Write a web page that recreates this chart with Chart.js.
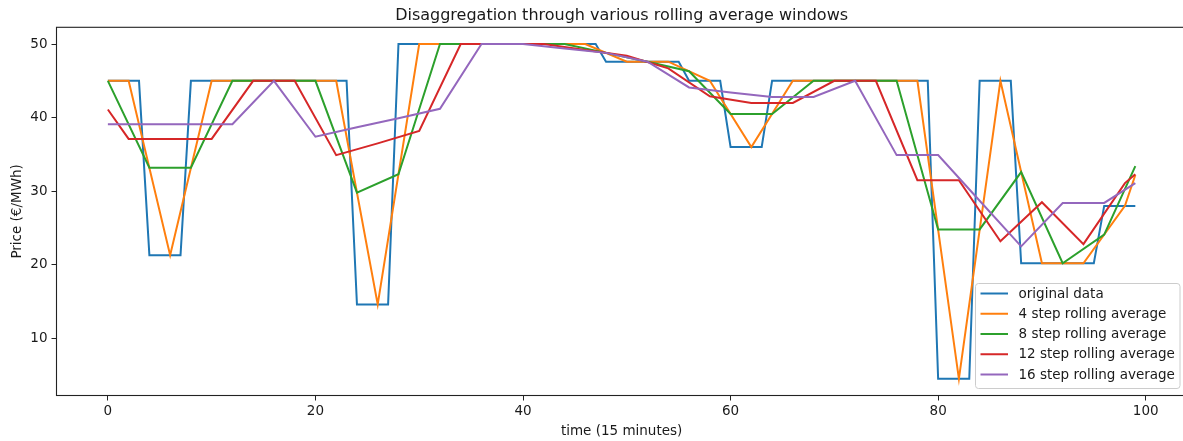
<!DOCTYPE html>
<html>
<head>
<meta charset="utf-8">
<title>Disaggregation through various rolling average windows</title>
<script src="https://cdn.jsdelivr.net/npm/chart.js@4.4.1/dist/chart.umd.min.js"></script>
<style>
  html, body { margin: 0; padding: 0; background: #ffffff; overflow: hidden; }
  #wrap { width: 1200px; height: 441px; }
</style>
</head>
<body>
<div id="wrap"><canvas id="chart" width="1200" height="441"></canvas></div>
<script>
// Time axis in 15-minute steps; each series is given by its corner points.
const originalX = [0, 3, 4, 7, 8, 23, 24, 27, 28, 47, 48, 55, 56, 59, 60, 63, 64, 79, 80, 83, 84, 87, 88, 95, 96, 99];
const originalY = [45, 45, 21.3, 21.3, 45, 45, 14.6, 14.6, 50, 50, 47.6, 47.6, 45, 45, 36, 36, 45, 45, 4.5, 4.5, 45, 45, 20.2, 20.2, 28, 28];

const roll4X = [0, 2, 6, 10, 14, 18, 22, 26, 30, 34, 38, 42, 46, 50, 54, 58, 62, 66, 70, 74, 78, 82, 86, 90, 94, 98, 99];
const roll4Y = [45, 45, 21.3, 45, 45, 45, 45, 14.6, 50, 50, 50, 50, 50, 47.6, 47.6, 45, 36, 45, 45, 45, 45, 4.5, 45, 20.2, 20.2, 28, 32.2];

const roll8X = [0, 4, 8, 12, 16, 20, 24, 28, 32, 36, 40, 44, 48, 52, 56, 60, 64, 68, 72, 76, 80, 84, 88, 92, 96, 99];
const roll8Y = [45, 33.2, 33.2, 45, 45, 45, 29.8, 32.3, 50, 50, 50, 50, 48.8, 47.6, 46.3, 40.5, 40.5, 45, 45, 45, 24.8, 24.8, 32.6, 20.2, 24.1, 33.4];

const roll12X = [0, 2, 6, 10, 14, 18, 22, 26, 30, 34, 38, 42, 46, 50, 54, 58, 62, 66, 70, 74, 78, 82, 86, 90, 94, 98, 99];
const roll12Y = [41.1, 37.1, 37.1, 37.1, 45, 45, 34.9, 36.5, 38.2, 50, 50, 50, 49.2, 48.4, 46.7, 42.9, 42, 42, 45, 45, 31.5, 31.5, 23.2, 28.5, 22.8, 31.1, 32.3];

const roll16X = [0, 4, 8, 12, 16, 20, 24, 28, 32, 36, 40, 44, 48, 52, 56, 60, 64, 68, 72, 76, 80, 84, 88, 92, 96, 99];
const roll16Y = [39.1, 39.1, 39.1, 39.1, 45, 37.4, 38.7, 39.9, 41.2, 50, 50, 49.4, 48.8, 47.6, 44.1, 43.4, 42.8, 42.8, 45, 34.9, 34.9, 28.7, 22.5, 28.4, 28.4, 31.1];

const seriesLabels = ['original data', '4 step rolling average', '8 step rolling average', '12 step rolling average', '16 step rolling average'];
const seriesColors = ['#1f77b4', '#ff7f0e', '#2ca02c', '#d62728', '#9467bd'];

const xTicks = [0, 20, 40, 60, 80, 100];
const yTicks = [10, 20, 30, 40, 50];

const titleText = 'Disaggregation through various rolling average windows';
const xTitle = 'time (15 minutes)';
const yTitle = 'Price (€/MWh)';

const FONT = 'DejaVu Sans, Verdana, sans-serif';
const TEXT = '#1a1a1a';

function points(xs, ys) { return xs.map((x, i) => ({ x: x, y: ys[i] })); }

const seriesData = [
  points(originalX, originalY),
  points(roll4X, roll4Y),
  points(roll8X, roll8Y),
  points(roll12X, roll12Y),
  points(roll16X, roll16Y)
];

// Later series are painted over earlier ones.
const datasets = seriesData.map((d, i) => ({
  label: seriesLabels[i],
  data: d,
  borderColor: seriesColors[i],
  backgroundColor: seriesColors[i],
  borderWidth: 2,
  pointRadius: 0,
  tension: 0,
  fill: false,
  order: seriesData.length - i
}));

// Frame, title, axis titles and the boxed legend.
const decorations = {
  id: 'decorations',
  afterDraw(chart) {
    const ctx = chart.ctx;
    const a = chart.chartArea;
    ctx.save();

    // Axes frame
    ctx.strokeStyle = '#222';
    ctx.lineWidth = 1.1;
    ctx.strokeRect(a.left, a.top, a.right - a.left, a.bottom - a.top);

    const cx = (a.left + a.right) / 2;
    ctx.fillStyle = TEXT;

    // Title
    ctx.font = '16px ' + FONT;
    ctx.textAlign = 'center';
    ctx.textBaseline = 'alphabetic';
    ctx.fillText(titleText, cx, 19.5);

    // Axis titles
    ctx.font = '13.5px ' + FONT;
    ctx.textBaseline = 'middle';
    ctx.fillText(xTitle, cx, 431);
    ctx.save();
    ctx.translate(17, (a.top + a.bottom) / 2);
    ctx.rotate(-Math.PI / 2);
    ctx.fillText(yTitle, 0, 0);
    ctx.restore();

    // Legend box in the lower right of the axes
    const bx = 975.5, by = 283.5, bw = 204.5, bh = 105, r = 3;
    ctx.beginPath();
    ctx.moveTo(bx + r, by);
    ctx.lineTo(bx + bw - r, by);
    ctx.arcTo(bx + bw, by, bx + bw, by + r, r);
    ctx.lineTo(bx + bw, by + bh - r);
    ctx.arcTo(bx + bw, by + bh, bx + bw - r, by + bh, r);
    ctx.lineTo(bx + r, by + bh);
    ctx.arcTo(bx, by + bh, bx, by + bh - r, r);
    ctx.lineTo(bx, by + r);
    ctx.arcTo(bx, by, bx + r, by, r);
    ctx.closePath();
    ctx.fillStyle = 'rgba(255,255,255,0.8)';
    ctx.fill();
    ctx.strokeStyle = '#cccccc';
    ctx.lineWidth = 1;
    ctx.stroke();

    ctx.textAlign = 'left';
    ctx.textBaseline = 'middle';
    ctx.font = '13.5px ' + FONT;
    chart.data.datasets.forEach((ds, i) => {
      const y = 293.5 + i * 20.25;
      ctx.strokeStyle = ds.borderColor;
      ctx.lineWidth = 2;
      ctx.beginPath();
      ctx.moveTo(980.5, y);
      ctx.lineTo(1008, y);
      ctx.stroke();
      ctx.fillStyle = TEXT;
      ctx.fillText(ds.label, 1018.5, y + 0.5);
    });

    ctx.restore();
  }
};

new Chart(document.getElementById('chart'), {
  type: 'line',
  data: { datasets: datasets },
  options: {
    responsive: false,
    animation: false,
    devicePixelRatio: 1,
    layout: { padding: { left: 0, top: 27.3, right: 13.3, bottom: 0 } },
    plugins: {
      legend: { display: false },
      title: { display: false },
      tooltip: { enabled: false }
    },
    scales: {
      x: {
        type: 'linear',
        min: -4.95,
        max: 103.95,
        afterBuildTicks: s => { s.ticks = xTicks.map(v => ({ value: v })); },
        afterFit: s => { s.height = 45.5; },
        ticks: {
          color: TEXT,
          font: { family: FONT, size: 13.5 },
          padding: 3,
          maxRotation: 0,
          autoSkip: false,
          callback: v => String(v)
        },
        grid: { display: true, drawOnChartArea: false, drawTicks: true, tickLength: 5, color: '#222', lineWidth: 1 },
        border: { display: true, color: '#222', width: 1 }
      },
      y: {
        type: 'linear',
        min: 2.225,
        max: 52.275,
        afterBuildTicks: s => { s.ticks = yTicks.map(v => ({ value: v })); },
        afterFit: s => { s.width = 56.5; },
        ticks: {
          color: TEXT,
          font: { family: FONT, size: 13.5 },
          padding: 4,
          autoSkip: false,
          callback: v => String(v)
        },
        grid: { display: true, drawOnChartArea: false, drawTicks: true, tickLength: 5, color: '#222', lineWidth: 1 },
        border: { display: true, color: '#222', width: 1 }
      }
    }
  },
  plugins: [decorations]
});
</script>
</body>
</html>
